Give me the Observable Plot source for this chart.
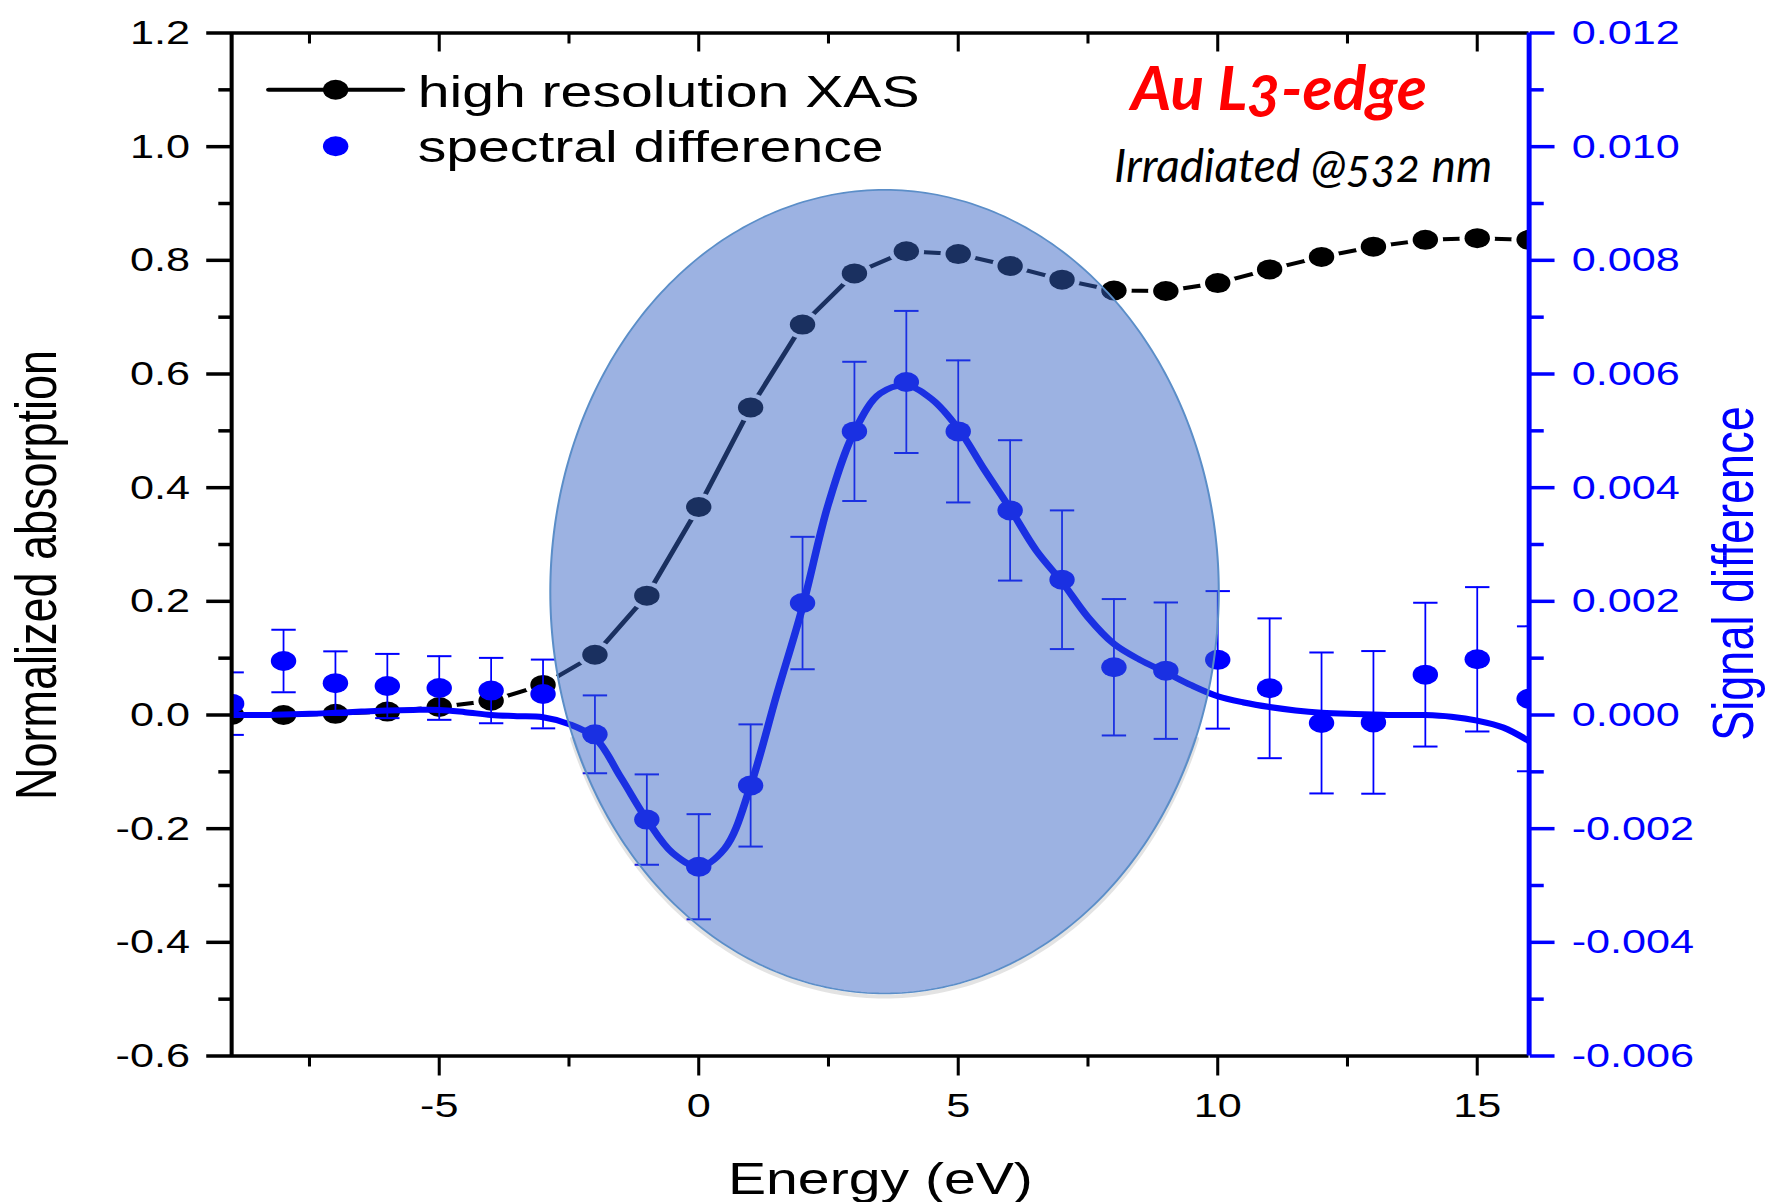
<!DOCTYPE html>
<html>
<head>
<meta charset="utf-8">
<script src="https://cdn.jsdelivr.net/npm/d3@7"></script>
<script src="https://cdn.jsdelivr.net/npm/@observablehq/plot@0.6"></script>
<style>
  html, body { margin: 0; padding: 0; background: #ffffff; }
  #chart { width: 1767px; height: 1202px; overflow: hidden; }
</style>
</head>
<body>
<div id="chart"></div>
<script>
// ---------------- DATA ----------------
const energy = [-9, -8, -7, -6, -5, -4, -3, -2, -1, 0, 1, 2, 3, 4, 5, 6, 7, 8, 9, 10, 11, 12, 13, 14, 15, 16];
const xasAbsorption = [0.000, 0.000, 0.002, 0.006, 0.014, 0.025, 0.053, 0.106, 0.210, 0.366, 0.541, 0.687, 0.777,
  0.816, 0.811, 0.790, 0.766, 0.747, 0.746, 0.760, 0.784, 0.806, 0.824, 0.836, 0.839, 0.836];
const signalDifference = [0.00020, 0.00095, 0.00056, 0.00051, 0.000475, 0.00043, 0.00037, -0.00034, -0.00184,
  -0.00267, -0.00124, 0.00197, 0.00499, 0.00586, 0.00499, 0.00360, 0.00238, 0.00084, 0.00078, 0.00097,
  0.00047, -0.00014, -0.00013, 0.00071, 0.00098, 0.000285];
const signalError = [0.00055, 0.00055, 0.00056, 0.000565, 0.00056, 0.000575, 0.000605, 0.000685, 0.000795,
  0.000925, 0.001075, 0.001165, 0.001225, 0.00125, 0.00125, 0.001235, 0.00122, 0.00120, 0.00120, 0.00121,
  0.00123, 0.00124, 0.001255, 0.001265, 0.00127, 0.001275];
const fitEnergy = [-9, -8.5, -8, -7.5, -7, -6.5, -6, -5.5, -5, -4.5, -4, -3.5, -3, -2.5, -2, -1.5, -1, -0.5, 0,
  0.5, 1, 1.5, 2, 2.5, 3, 3.5, 4, 4.5, 5, 5.5, 6, 6.5, 7, 7.5, 8, 8.5, 9, 9.5, 10, 10.5, 11, 11.5, 12, 12.5,
  13, 13.5, 14, 14.5, 15, 15.5, 16];
const fitSignal = [0, 0, 0.00001, 0.00002, 0.00004, 0.00006, 0.00008, 0.00009, 0.00009, 0.00005, 0, -0.00002,
  -0.00004, -0.00016, -0.0004, -0.0011, -0.00184, -0.00243, -0.00267, -0.00235, -0.00124, 0.00035, 0.0019,
  0.00372, 0.00499, 0.00566, 0.0058, 0.00555, 0.00504, 0.00432, 0.00363, 0.0029, 0.00234, 0.00172, 0.00125,
  0.00097, 0.00075, 0.00052, 0.00033, 0.00022, 0.00014, 0.00008, 0.00004, 0.00002, 0.00001, 0, 0, -0.00003,
  -0.0001, -0.00022, -0.00046];
const yTicks = [-0.6, -0.4, -0.2, 0.0, 0.2, 0.4, 0.6, 0.8, 1.0, 1.2];
const yMinorTicks = [-0.5, -0.3, -0.1, 0.1, 0.3, 0.5, 0.7, 0.9, 1.1];
const xTicks = [-5, 0, 5, 10, 15];
const xMinorTicks = [-7.5, -2.5, 2.5, 7.5, 12.5];
const legendLabels = ["high resolution XAS", "spectral difference"];
const axisTitles = ["Energy (eV)", "Normalized absorption", "Signal difference"];
const annotationTitle = "Au L3-edge";
const annotationSubtitle = "Irradiated @532 nm";
const highlightEllipse = [3.58, 0.217, 6.44, 0.707]; // centre energy, centre absorption, half-width, half-height

// right axis (signal difference) = left axis (absorption) / 100
const SIGNAL_TO_ABS = 100;

// ---------------- TABLES ----------------
const xasRows = energy.map((e, i) => ({e, v: xasAbsorption[i]}));
const diffRows = energy.map((e, i) => ({
  e,
  v: signalDifference[i] * SIGNAL_TO_ABS,
  lo: (signalDifference[i] - signalError[i]) * SIGNAL_TO_ABS,
  hi: (signalDifference[i] + signalError[i]) * SIGNAL_TO_ABS
}));
const fitRows = fitEnergy.map((e, i) => ({e, v: fitSignal[i] * SIGNAL_TO_ABS}));
const [ecx, ecy, erx, ery] = highlightEllipse;
const ellipseRows = d3.range(0, 360, 1).map(deg => {
  const t = deg * Math.PI / 180;
  return {e: ecx + erx * Math.cos(t), v: ecy + ery * Math.sin(t)};
});
const shadowRows = ellipseRows.filter(d => d.v < ecy - 0.35 * ery);

// ---------------- LAYOUT ----------------
const W = 1767, H = 1202;
const S = 1.27;            // horizontal stretch of the original figure
const Wu = W / S;
const BLUE = "#0000ff";
const hLine = {draw(ctx, size) { const h = Math.sqrt(size / Math.PI); ctx.moveTo(-h, 0); ctx.lineTo(h, 0); }};

try {
  const svg = Plot.plot({
    width: Wu,
    height: H,
    marginLeft: 231 / S,
    marginRight: (W - 1528.5) / S,
    marginTop: 32.5,
    marginBottom: 146.5,
    x: {domain: [-9, 16], axis: null},
    y: {domain: [-0.6, 1.2], axis: null},
    style: {fontFamily: "'Liberation Sans', Arial, sans-serif", background: "#ffffff", overflow: "visible", color: "#000"},
    marks: [
      // high resolution XAS
      Plot.line(xasRows, {x: "e", y: "v", stroke: "#000", strokeWidth: 4, clip: true}),
      Plot.dot(xasRows, {x: "e", y: "v", r: 14, fill: "#ffffff", clip: true}),
      Plot.dot(xasRows, {x: "e", y: "v", r: 10, fill: "#000", clip: true}),
      // spectral difference
      Plot.line(fitRows, {x: "e", y: "v", stroke: BLUE, strokeWidth: 6, curve: "catmull-rom", clip: true}),
      Plot.ruleX(diffRows, {x: "e", y1: "lo", y2: "hi", stroke: BLUE, strokeWidth: 1.4, clip: true}),
      Plot.dot(diffRows, {x: "e", y: "lo", r: 9.6, symbol: hLine, fill: "none", stroke: BLUE, strokeWidth: 2, clip: true}),
      Plot.dot(diffRows, {x: "e", y: "hi", r: 9.6, symbol: hLine, fill: "none", stroke: BLUE, strokeWidth: 2, clip: true}),
      Plot.dot(diffRows, {x: "e", y: "v", r: 10, fill: BLUE, clip: true}),
      // highlight ellipse (soft shadow at the bottom, then the translucent shape)
      Plot.line(shadowRows, {x: "e", y: "v", stroke: "#808080", strokeOpacity: 0.22, strokeWidth: 4, dy: 3}),
      Plot.line(ellipseRows, {x: "e", y: "v", curve: "linear-closed", fill: "rgb(53,98,196)", fillOpacity: 0.49, stroke: "#5b8ec8", strokeWidth: 1.6}),
      // frame
      Plot.ruleY([1.2, -0.6], {stroke: "#000", strokeWidth: 3.5}),
      Plot.ruleX([-9], {stroke: "#000", strokeWidth: 3.2}),
      Plot.ruleX([16], {stroke: BLUE, strokeWidth: 3.9}),
      // left axis
      Plot.axisY(yTicks, {anchor: "left", tickSize: 19.5, tickPadding: 13.3, tickFormat: d => d.toFixed(1), fontSize: 34, strokeWidth: 3.5, color: "#000", label: null}),
      Plot.axisY(yMinorTicks, {anchor: "left", tickSize: 10, tickFormat: () => "", strokeWidth: 3.5, color: "#000", label: null}),
      // right axis
      Plot.axisY(yTicks, {anchor: "right", tickSize: 19.5, tickPadding: 14, tickFormat: d => (d / SIGNAL_TO_ABS).toFixed(3), fontSize: 34, strokeWidth: 3.5, color: BLUE, label: null}),
      Plot.axisY(yMinorTicks, {anchor: "right", tickSize: 11, tickFormat: () => "", strokeWidth: 3.5, color: BLUE, label: null}),
      // bottom axis
      Plot.axisX(xTicks, {anchor: "bottom", tickSize: 20, tickPadding: 17, tickFormat: d => String(d), fontSize: 34, strokeWidth: 2.4, color: "#000", label: null}),
      Plot.axisX(xMinorTicks, {anchor: "bottom", tickSize: 11, tickFormat: () => "", strokeWidth: 2.4, color: "#000", label: null}),
      // top axis (inward ticks)
      Plot.axisX(xTicks, {anchor: "top", tickSize: -18, tickFormat: () => "", strokeWidth: 2.4, color: "#000", label: null}),
      Plot.axisX(xMinorTicks, {anchor: "top", tickSize: -10, tickFormat: () => "", strokeWidth: 2.4, color: "#000", label: null}),
      // axis titles
      Plot.text([axisTitles[0]], {frameAnchor: "bottom", text: d => d, dy: 137.5, lineAnchor: "bottom", textAnchor: "middle", fontSize: 45, fill: "#000"}),
      Plot.text([axisTitles[1]], {frameAnchor: "left", text: d => d, rotate: -90, dx: -138.6, dy: 30.5, lineAnchor: "bottom", textAnchor: "middle", fontSize: 45, fill: "#000"}),
      Plot.text([axisTitles[2]], {frameAnchor: "right", text: d => d, rotate: -90, dx: 176.5, dy: 29, lineAnchor: "bottom", textAnchor: "middle", fontSize: 45, fill: BLUE}),
      // legend
      Plot.dot([legendLabels[0]], {frameAnchor: "top-left", dx: 81.9, dy: 56.8, r: 52.8, symbol: hLine, fill: "none", stroke: "#000", strokeWidth: 4, strokeLinecap: "round"}),
      Plot.dot([legendLabels[0]], {frameAnchor: "top-left", dx: 81.9, dy: 56.8, r: 10, fill: "#000"}),
      Plot.dot([legendLabels[1]], {frameAnchor: "top-left", dx: 81.9, dy: 113.2, r: 10, fill: BLUE}),
      Plot.text([legendLabels[0]], {frameAnchor: "top-left", text: d => d, dx: 146.5, dy: 74.2, textAnchor: "start", lineAnchor: "bottom", fontSize: 45, fill: "#000"}),
      Plot.text([legendLabels[1]], {frameAnchor: "top-left", text: d => d, dx: 146.5, dy: 129.2, textAnchor: "start", lineAnchor: "bottom", fontSize: 45, fill: "#000"}),
      // annotations
      Plot.text([annotationTitle], {frameAnchor: "top-right", text: d => d, dx: -197, dy: 76.5, textAnchor: "middle", lineAnchor: "bottom",
        fontSize: 62, fontWeight: "bold", fontStyle: "italic", fontFamily: "Lato, 'Open Sans', sans-serif", fontVariant: "oldstyle-nums", fill: "#ff0000"}),
      Plot.text([annotationSubtitle], {frameAnchor: "top-right", text: d => d, dx: -178, dy: 148.5, textAnchor: "middle", lineAnchor: "bottom",
        fontSize: 46, fontStyle: "italic", fontFamily: "Lato, 'Open Sans', sans-serif", fontVariant: "oldstyle-nums", fill: "#000"})
    ]
  });

  // stretch horizontally like the original figure
  svg.setAttribute("viewBox", `0 0 ${Wu} ${H}`);
  svg.setAttribute("width", W);
  svg.setAttribute("height", H);
  svg.setAttribute("preserveAspectRatio", "none");
  svg.style.width = W + "px";
  svg.style.height = H + "px";
  svg.style.maxWidth = "none";

  // the overlaid annotation texts are not stretched in the original
  for (const t of svg.querySelectorAll("text")) {
    if (t.textContent === annotationTitle || t.textContent === annotationSubtitle) {
      let tr = t.getAttribute("transform") || "";
      const xa = t.getAttribute("x");
      if (xa != null && !isNaN(+xa)) { tr += ` translate(${+xa},0)`; t.removeAttribute("x"); }
      t.setAttribute("transform", `${tr} scale(${1 / S},1)`);
    }
  }
  document.getElementById("chart").appendChild(svg);
} catch (err) {
  document.getElementById("chart").textContent = "Error: " + err.message;
  console.error(err);
}
</script>
</body>
</html>
